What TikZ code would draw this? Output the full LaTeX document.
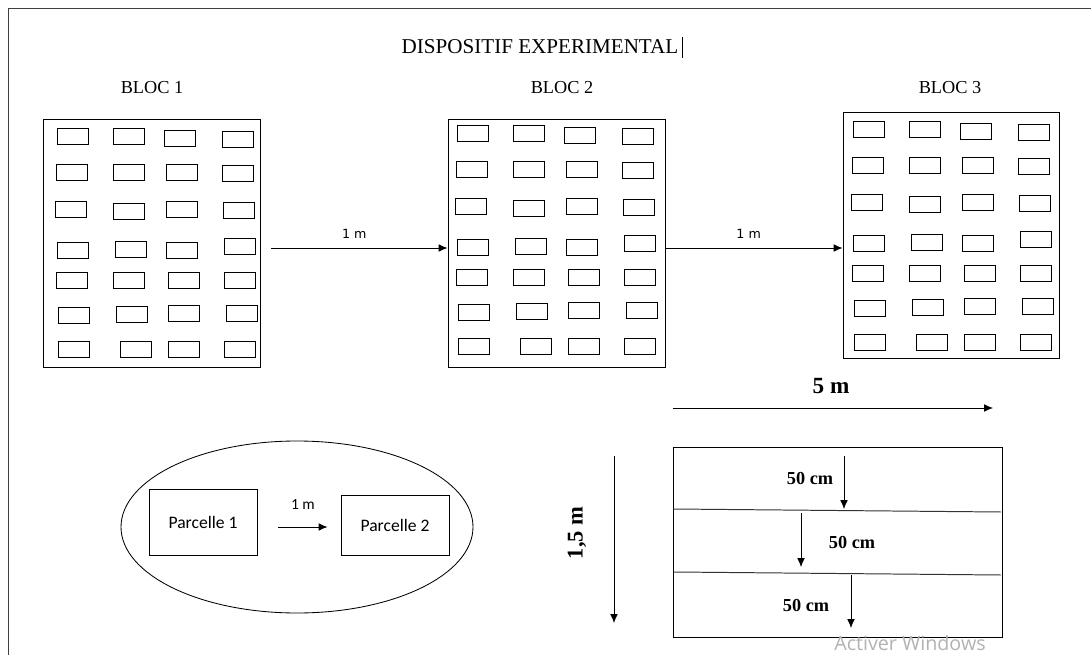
\documentclass[tikz,border=0pt]{standalone}
\usepackage{fontspec}
\setmainfont{Liberation Serif}
\newfontfamily\dejavu{DejaVu Sans}
\newfontfamily\carlito{Carlito}
\newfontfamily\opensans{Open Sans}
\usetikzlibrary{arrows.meta,shapes.geometric}

\tikzset{
  titre/.style={font=\fontsize{13}{15}\selectfont},
  bloc/.style={draw, line width=0.7pt, inner sep=0pt},
  parc/.style={draw, line width=0.7pt},
  fleche/.style={-{Latex[length=2.2mm,width=1.9mm]}, line width=0.6pt},
  petit/.style={font=\dejavu\fontsize{9}{11}\selectfont},
  cote/.style={font=\bfseries\fontsize{13}{15}\selectfont},
}

\begin{document}
\begin{tikzpicture}[x=0.025cm, y=-0.025cm]
  \useasboundingbox (0,0) rectangle (1091,655);
  \draw[line width=0.7pt, black!75] (1091,8) -- (8,8) -- (8,655);

  \node[titre, font=\fontsize{15}{17}\selectfont] (titre) at (540,47) {DISPOSITIF EXPERIMENTAL};
  \draw[line width=0.5pt] (682,37) -- (682,58);

  \node[titre] (l1) at (152,88) {BLOC 1};
  \node[titre] (l2) at (562,88) {BLOC 2};
  \node[titre] (l3) at (950,88) {BLOC 3};

  \node[bloc, minimum width={217*0.025cm}, minimum height={248*0.025cm}] (b1) at (151.5,243) {};
  \node[bloc, minimum width={217*0.025cm}, minimum height={248*0.025cm}] (b2) at (556.5,243) {};
  \node[bloc, minimum width={216*0.025cm}, minimum height={246*0.025cm}] (b3) at (951,235) {};

  \foreach \b/\dx/\dy in {b1/15/10, b2/10/7, b3/11/10}
  {
    \begin{scope}[shift={(\b.north west)}, shift={(\dx,\dy)}]
      \foreach \x/\y in {0/0, 56/0, 107/2, 165/3,
                         -1/36, 56/36, 109/36, 165/37,
                         -2/73, 56/75, 109/73, 166/74,
                         0/114, 58/113, 109/114, 167/110,
                         -1/144, 56/144, 111/144, 167/144,
                         1/179, 59/178, 111/177, 169/177,
                         1/213, 63/213, 111/213, 167/213}
        \draw[parc] (\x,\y) rectangle +(31,16);
    \end{scope}
  }

  \draw[fleche] ([shift={(11,5)}]b1.east) -- ([shift={(0,5)}]b2.west)
    node[petit, pos=0.47, above=3pt] {1 m};
  \draw[fleche] ([shift={(0,5)}]b2.east) -- ([shift={(0,13)}]b3.west)
    node[petit, pos=0.47, above=3pt] {1 m};

  \node[ellipse, draw, line width=0.6pt, minimum width={352*0.025cm}, minimum height={172*0.025cm}] (champ) at (297,527) {};
  \node[bloc, font=\carlito\fontsize{12.5}{14}\selectfont, minimum width={108*0.025cm}, minimum height={66*0.025cm}] (p1) at (203,522) {Parcelle 1};
  \node[bloc, font=\carlito\fontsize{12.5}{14}\selectfont, minimum width={108*0.025cm}, minimum height={60*0.025cm}] (p2) at (395,525) {Parcelle 2};
  \draw[fleche] ([shift={(21,5)}]p1.east) -- ([shift={(-13,2)}]p2.west)
    node[font=\carlito\fontsize{11}{13}\selectfont, midway, above=9pt] {1 m};

  \node[cote, font=\bfseries\fontsize{16.5}{18}\selectfont] (cinq) at (831,386) {5 m};
  \coordinate (h1) at (673,408);
  \coordinate (h2) at (993,408);
  \draw[fleche] (h1) -- (h2);

  \node[cote, font=\bfseries\fontsize{16}{18}\selectfont, rotate=90] (unq) at (577,533) {1,5 m};
  \coordinate (v1) at (614,456);
  \coordinate (v2) at (614,623);
  \draw[fleche] (v1) -- (v2);

  \node[bloc, minimum width={329*0.025cm}, minimum height={190*0.025cm}] (planche) at (837.5,542.5) {};
  \coordinate (d1a) at (673,509);
  \coordinate (d1b) at (1001,512);
  \coordinate (d2a) at (674,572);
  \coordinate (d2b) at (1001,575);
  \draw[line width=0.7pt, black!80] (d1a) -- (d1b);
  \draw[line width=0.7pt, black!80] (d2a) -- (d2b);

  \coordinate (a1) at (844,456);
  \coordinate (a2) at (844,509);
  \coordinate (a3) at (801,513);
  \coordinate (a4) at (801,567);
  \coordinate (a5) at (851,575);
  \coordinate (a6) at (851,628);
  \draw[fleche] (a1) -- (a2);
  \draw[fleche] (a3) -- (a4);
  \draw[fleche] (a5) -- (a6);
  \node[cote] (c1) at (810,479) {50 cm};
  \node[cote] (c2) at (852,543) {50 cm};
  \node[cote] (c3) at (806,606) {50 cm};

  \node[font=\opensans\fontsize{14}{16}\selectfont, text=black!30] (win) at (910,643) {Activer Windows};
\end{tikzpicture}
\end{document}
